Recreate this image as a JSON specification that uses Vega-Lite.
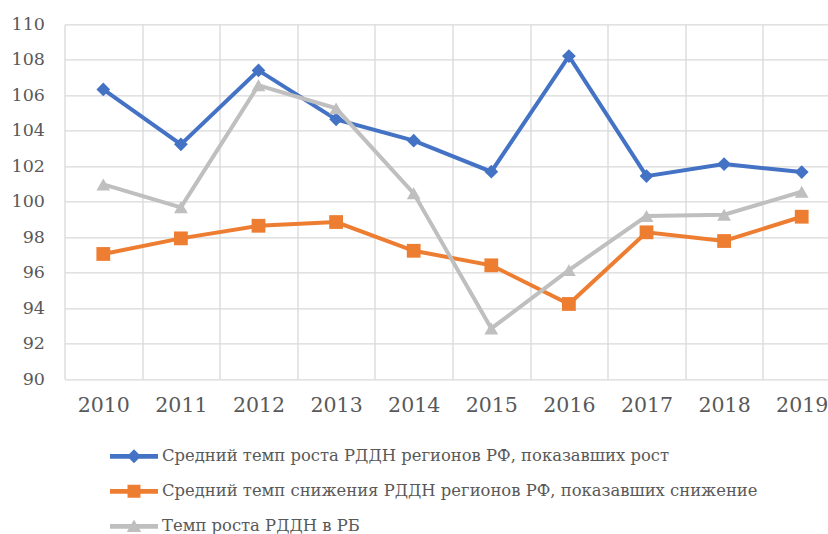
{
  "$schema": "https://vega.github.io/schema/vega-lite/v6.json",
  "width": 763.5,
  "height": 354.7,
  "autosize": {"type": "none"},
  "padding": {"left": 64.5, "top": 24.3, "right": 0, "bottom": 155},
  "background": "white",
  "config": {
    "view": {"stroke": null},
    "axis": {"gridColor": "#D9D9D9", "gridWidth": 1.3, "domain": false, "ticks": false, "labelFont": "DejaVu Serif", "labelFontSize": 17.5, "labelColor": "#595959"}
  },
  "data": {"values": [
    {"year": "2010", "series": "Средний темп роста РДДН регионов РФ, показавших рост", "value": 106.33},
    {"year": "2011", "series": "Средний темп роста РДДН регионов РФ, показавших рост", "value": 103.23},
    {"year": "2012", "series": "Средний темп роста РДДН регионов РФ, показавших рост", "value": 107.4},
    {"year": "2013", "series": "Средний темп роста РДДН регионов РФ, показавших рост", "value": 104.64},
    {"year": "2014", "series": "Средний темп роста РДДН регионов РФ, показавших рост", "value": 103.44},
    {"year": "2015", "series": "Средний темп роста РДДН регионов РФ, показавших рост", "value": 101.69},
    {"year": "2016", "series": "Средний темп роста РДДН регионов РФ, показавших рост", "value": 108.21},
    {"year": "2017", "series": "Средний темп роста РДДН регионов РФ, показавших рост", "value": 101.44},
    {"year": "2018", "series": "Средний темп роста РДДН регионов РФ, показавших рост", "value": 102.12},
    {"year": "2019", "series": "Средний темп роста РДДН регионов РФ, показавших рост", "value": 101.67},
    {"year": "2010", "series": "Средний темп снижения РДДН регионов РФ, показавших снижение", "value": 97.05},
    {"year": "2011", "series": "Средний темп снижения РДДН регионов РФ, показавших снижение", "value": 97.93},
    {"year": "2012", "series": "Средний темп снижения РДДН регионов РФ, показавших снижение", "value": 98.64},
    {"year": "2013", "series": "Средний темп снижения РДДН регионов РФ, показавших снижение", "value": 98.85},
    {"year": "2014", "series": "Средний темп снижения РДДН регионов РФ, показавших снижение", "value": 97.23},
    {"year": "2015", "series": "Средний темп снижения РДДН регионов РФ, показавших снижение", "value": 96.41},
    {"year": "2016", "series": "Средний темп снижения РДДН регионов РФ, показавших снижение", "value": 94.23},
    {"year": "2017", "series": "Средний темп снижения РДДН регионов РФ, показавших снижение", "value": 98.27},
    {"year": "2018", "series": "Средний темп снижения РДДН регионов РФ, показавших снижение", "value": 97.78},
    {"year": "2019", "series": "Средний темп снижения РДДН регионов РФ, показавших снижение", "value": 99.15},
    {"year": "2010", "series": "Темп роста РДДН в РБ", "value": 100.97},
    {"year": "2011", "series": "Темп роста РДДН в РБ", "value": 99.68},
    {"year": "2012", "series": "Темп роста РДДН в РБ", "value": 106.56},
    {"year": "2013", "series": "Темп роста РДДН в РБ", "value": 105.26},
    {"year": "2014", "series": "Темп роста РДДН в РБ", "value": 100.47},
    {"year": "2015", "series": "Темп роста РДДН в РБ", "value": 92.85},
    {"year": "2016", "series": "Темп роста РДДН в РБ", "value": 96.14},
    {"year": "2017", "series": "Темп роста РДДН в РБ", "value": 99.19},
    {"year": "2018", "series": "Темп роста РДДН в РБ", "value": 99.26},
    {"year": "2019", "series": "Темп роста РДДН в РБ", "value": 100.56}
  ]},
  "encoding": {
    "x": {
      "field": "year", "type": "nominal",
      "scale": {"range": [0, 776], "paddingInner": 0, "paddingOuter": 0},
      "axis": {"title": null, "labelAngle": 0, "tickBand": "extent", "grid": true, "labelPadding": 16, "labelFontSize": 20.5}
    },
    "y": {
      "field": "value", "type": "quantitative",
      "scale": {"domain": [90, 110], "nice": false, "zero": false},
      "axis": {"title": null, "values": [90, 92, 94, 96, 98, 100, 102, 104, 106, 108, 110], "grid": true, "labelPadding": 20}
    }
  },
  "layer": [
    {
      "mark": {"type": "line", "strokeWidth": 4},
      "encoding": {
        "color": {"field": "series", "type": "nominal", "legend": null,
          "scale": {"domain": ["Средний темп роста РДДН регионов РФ, показавших рост", "Средний темп снижения РДДН регионов РФ, показавших снижение", "Темп роста РДДН в РБ"],
                    "range": ["#4472C4", "#ED7D31", "#BFBFBF"]}}
      }
    },
    {
      "mark": {"type": "point", "filled": true, "opacity": 1, "size": 190},
      "encoding": {
        "color": {"field": "series", "type": "nominal", "legend": null,
          "scale": {"domain": ["Средний темп роста РДДН регионов РФ, показавших рост", "Средний темп снижения РДДН регионов РФ, показавших снижение", "Темп роста РДДН в РБ"],
                    "range": ["#4472C4", "#ED7D31", "#BFBFBF"]}},
        "shape": {"field": "series", "type": "nominal", "legend": null,
          "scale": {"domain": ["Средний темп роста РДДН регионов РФ, показавших рост", "Средний темп снижения РДДН регионов РФ, показавших снижение", "Темп роста РДДН в РБ"],
                    "range": ["diamond", "square", "triangle-up"]}}
      }
    },
    {
      "transform": [{"filter": "datum.value < 0"}],
      "mark": {"type": "point", "filled": true, "opacity": 1, "strokeWidth": 0},
      "encoding": {
        "color": {"field": "series", "type": "nominal",
          "scale": {"domain": ["Средний темп роста РДДН регионов РФ, показавших рост", "Средний темп снижения РДДН регионов РФ, показавших снижение", "Темп роста РДДН в РБ"],
                    "range": ["#4472C4", "#ED7D31", "#BFBFBF"]},
          "legend": {"title": null, "orient": "none", "legendX": 45.5, "legendY": 408, "direction": "vertical",
            "labelFont": "DejaVu Serif", "labelFontSize": 16.4, "labelColor": "#595959", "labelLimit": 900,
            "symbolSize": 2304, "symbolStrokeWidth": 0, "labelOffset": 4, "rowPadding": 2, "symbolOpacity": 1}},
        "shape": {"field": "series", "type": "nominal",
          "scale": {"domain": ["Средний темп роста РДДН регионов РФ, показавших рост", "Средний темп снижения РДДН регионов РФ, показавших снижение", "Темп роста РДДН в РБ"],
                    "range": ["M-1,-0.1L1,-0.1L1,0.1L-1,0.1Z M0,-0.29L0.29,0L0,0.29L-0.29,0Z",
                              "M-1,-0.1L1,-0.1L1,0.1L-1,0.1Z M-0.27,-0.27L0.27,-0.27L0.27,0.27L-0.27,0.27Z",
                              "M-1,-0.1L1,-0.1L1,0.1L-1,0.1Z M0,-0.28L0.3,0.24L-0.3,0.24Z"]},
          "legend": {"title": null, "orient": "none", "legendX": 45.5, "legendY": 408, "direction": "vertical",
            "labelFont": "DejaVu Serif", "labelFontSize": 16.4, "labelColor": "#595959", "labelLimit": 900,
            "symbolSize": 2304, "symbolStrokeWidth": 0, "labelOffset": 4, "rowPadding": 2, "symbolOpacity": 1}}
      }
    }
  ],
  "resolve": {"scale": {"shape": "independent", "color": "independent"}}
}
